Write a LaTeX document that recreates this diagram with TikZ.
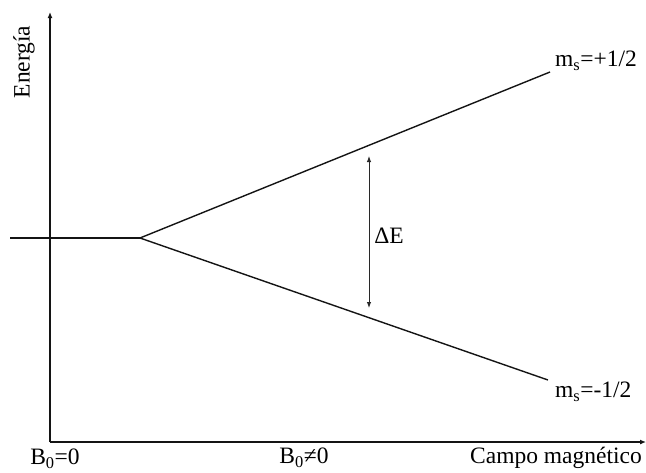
\documentclass[tikz,border=0pt]{standalone}
\usepackage{fontspec}
\setmainfont{Liberation Serif}
\usepackage{tikz}
\usetikzlibrary{arrows.meta,positioning}
\definecolor{levelblack}{RGB}{20,20,20}
\definecolor{gapgray}{RGB}{40,40,40}

\tikzset{
  axis/.style={line width=1.9pt,levelblack,-{Latex[length=6pt,width=5pt]}},
  level/.style={line width=1.4pt,levelblack},
  gap/.style={line width=1pt,gapgray,{Latex[length=6pt,width=4.5pt]}-{Latex[length=6pt,width=4.5pt]}},
  lbl/.style={font=\fontsize{23.5}{27}\selectfont,inner sep=0pt}
}

\begin{document}
\begin{tikzpicture}[x=1pt,y=-1pt]
    \useasboundingbox (0,0) rectangle (646,472);

    % Axes
    \coordinate (O) at (50,442);
    \coordinate (ytip) at (50,12);
    \coordinate (xtip) at (646,442);
    \draw[axis] (O) -- (ytip);
    \draw[axis] (O) -- (xtip);
    \node[lbl,rotate=90] (energia) at (24,62) {Energía};

    % Levels
    \coordinate (start) at (10,238);
    \coordinate (split) at (140,238);
    \coordinate (up) at (550,72);
    \coordinate (down) at (548,380);
    \draw[level] (start) -- (split);
    \draw[level] (split) -- (up);
    \draw[level] (split) -- (down);
    \node[lbl,anchor=west] (msup) at (555,61) {m\textsubscript{s}=+1/2};
    \node[lbl,anchor=west] (msdown) at (555,392) {m\textsubscript{s}=-1/2};

    % Splitting
    \coordinate (gaptop) at (369,156);
    \coordinate (gapbot) at (369,308);
    \draw[gap] (gaptop) -- (gapbot);
    \node[lbl] (dE) at (389,236) {ΔE};

    % Field values
    \node[lbl] (bzero) at (55,459) {B\textsubscript{0}=0};
    \node[lbl] (bnonzero) at (304,458) {B\textsubscript{0}≠0};
    \node[lbl,anchor=east] (campo) at (642,458) {Campo magnético};
\end{tikzpicture}
\end{document}
